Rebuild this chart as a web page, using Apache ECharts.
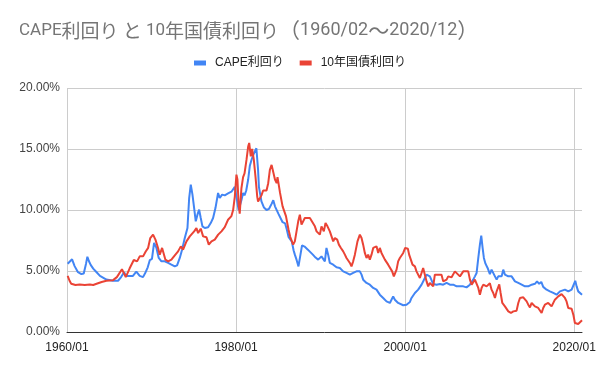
<!DOCTYPE html>
<html><head><meta charset="utf-8">
<script src="https://cdn.jsdelivr.net/npm/echarts@6/dist/echarts.min.js"></script>
<style>html,body{margin:0;padding:0;background:#fff}#c{width:600px;height:371px}</style>
</head><body><div id="c"></div>
<script>
// title split into latin / CJK runs so each can use its own size
const titleRuns = [['l','CAPE'],['j','利回り'],['l',' '],['j','と'],['l',' 10'],['j','年国債利回り'],['p','（'],['d','1960/02'],['p','〜'],['d','2020/12'],['p','）']];
const seriesNames = ['CAPE利回り', '10年国債利回り'];
const xTicks = [1960, 1980, 2000, 2020];
const yTicks = [0, 5, 10, 15, 20];

// [decimal year, yield %]
const capeYield = [
[1960.08,5.6],[1960.3,5.75],[1960.6,5.96],[1960.9,5.4],[1961.3,4.9],[1961.7,4.75],[1961.98,4.8],[1962.25,5.6],[1962.41,6.17],[1962.6,5.8],
[1962.8,5.5],[1963.1,5.2],[1963.5,4.9],[1963.9,4.6],[1964.66,4.3],[1965.44,4.2],[1966.04,4.2],[1966.4,4.5],[1966.75,4.9],[1967.0,4.6],
[1967.22,4.6],[1967.8,4.6],[1968.2,4.95],[1968.6,4.6],[1968.99,4.5],[1969.3,4.9],[1969.55,5.3],[1969.8,5.9],[1970.05,6.0],[1970.3,7.3],[1970.58,6.89],
[1970.85,6.07],[1971.17,5.79],[1971.56,5.79],[1971.96,5.66],[1972.35,5.52],[1972.75,5.38],[1973.02,5.46],[1973.34,6.07],[1973.61,6.75],[1973.93,7.7],
[1974.25,8.52],[1974.45,10.98],[1974.64,12.08],[1974.84,11.26],[1975.04,10.16],[1975.23,9.07],[1975.43,9.62],[1975.63,10.03],[1975.82,9.34],[1976.02,8.66],
[1976.3,8.52],[1976.69,8.58],[1977.0,8.93],[1977.28,9.34],[1977.56,10.16],[1977.87,11.39],[1978.07,10.98],[1978.35,11.26],[1978.66,11.2],[1979.05,11.36],
[1979.45,11.5],[1979.85,11.9],[1980.04,11.1],[1980.3,10.0],[1980.63,10.8],[1980.83,11.4],[1981.0,11.2],[1981.2,11.6],[1981.43,12.5],[1981.62,13.6],
[1981.82,14.1],[1982.02,14.5],[1982.2,14.6],[1982.4,15.06],[1982.5,14.9],[1982.6,13.3],[1982.7,11.9],[1982.9,11.1],[1983.0,10.7],[1983.3,10.2],
[1983.6,10.0],[1983.9,10.1],[1984.2,10.5],[1984.4,10.8],[1984.6,10.3],[1984.8,10.2],[1985.0,9.7],[1985.2,9.6],[1985.5,9.0],[1985.8,8.9],
[1986.0,8.4],[1986.2,7.8],[1986.6,7.4],[1986.8,6.7],[1986.95,6.34],[1987.15,5.93],[1987.38,5.38],[1987.55,5.3],[1987.8,7.1],
[1988.1,7.0],[1988.29,6.89],[1988.49,6.75],[1988.68,6.61],[1989.08,6.34],[1989.4,6.1],[1989.71,5.93],[1990.1,6.2],[1990.5,5.79],[1990.69,6.89],
[1990.89,6.34],[1991.09,5.66],[1991.49,5.52],[1991.88,5.3],[1992.27,5.25],[1992.67,4.97],[1993.06,4.84],[1993.46,4.7],[1993.85,4.84],[1994.24,4.97],
[1994.64,4.97],[1994.84,4.7],[1995.03,4.29],[1995.43,4.02],[1995.82,3.88],[1996.22,3.61],[1996.61,3.47],[1997.0,3.06],[1997.4,2.79],[1997.79,2.51],
[1998.19,2.38],[1998.58,2.92],[1998.78,2.65],[1999.17,2.38],[1999.37,2.3],[1999.77,2.19],[2000.16,2.24],[2000.56,2.46],[2000.75,2.79],[2001.15,3.2],
[2001.54,3.47],[2001.74,3.61],[2001.94,3.88],[2002.33,4.43],[2002.53,4.7],[2002.92,4.56],[2003.12,4.43],[2003.32,3.93],[2003.71,3.88],[2004.11,3.93],
[2004.5,3.88],[2004.9,4.02],[2005.29,3.88],[2005.69,3.88],[2006.08,3.74],[2006.48,3.74],[2006.87,3.74],[2007.26,3.66],[2007.66,3.88],[2007.86,3.93],
[2008.05,4.29],[2008.25,4.56],[2008.45,4.84],[2008.65,6.07],[2008.84,7.16],[2009.0,7.9],[2009.16,6.89],[2009.31,6.07],[2009.5,5.6],[2009.75,5.25],
[2009.9,4.97],[2010.02,4.75],[2010.22,5.11],[2010.42,4.97],[2010.62,4.56],[2010.82,4.29],[2011.01,4.56],[2011.41,4.56],[2011.6,5.11],[2011.8,4.7],
[2012.0,4.84],[2012.2,4.56],[2012.59,4.56],[2012.79,4.43],[2012.99,4.15],[2013.38,4.02],[2013.78,3.88],[2014.17,3.74],[2014.56,3.74],[2014.96,3.88],
[2015.35,3.95],[2015.6,4.15],[2015.85,3.95],[2016.1,4.1],[2016.33,3.7],[2016.73,3.47],[2017.12,3.33],[2017.52,3.2],[2017.91,3.06],[2018.11,3.2],
[2018.31,3.33],[2018.5,3.33],[2018.9,3.47],[2019.3,3.33],[2019.69,3.47],[2019.89,3.33],[2020.12,4.2],[2020.28,3.74],[2020.47,3.33],[2020.67,3.2],
[2020.92,3.06]
];

const bondYield = [
[1960.08,4.6],[1960.3,4.2],[1960.5,3.95],[1961.0,3.85],[1961.5,3.9],[1962.1,3.85],[1962.7,3.9],[1963.1,3.85],[1963.5,3.95],[1964.1,4.1],
[1964.66,4.2],[1965.45,4.25],[1965.9,4.5],[1966.5,5.15],[1966.95,4.5],[1967.4,5.2],[1967.9,5.9],[1968.29,5.79],
[1968.6,6.2],[1969.0,6.2],[1969.31,6.6],[1969.6,6.9],[1969.85,7.7],[1970.18,7.98],[1970.46,7.57],[1970.77,6.89],[1970.97,6.34],[1971.25,6.89],
[1971.64,5.93],[1971.96,5.79],[1972.35,5.93],[1972.75,6.28],[1973.14,6.61],[1973.46,7.02],[1973.73,6.75],[1974.13,7.43],[1974.52,7.84],[1975.04,8.25],
[1975.31,8.52],[1975.51,8.11],[1975.82,8.47],[1976.1,7.84],[1976.5,7.76],[1976.77,7.16],[1977.09,7.43],[1977.48,7.57],[1977.88,7.98],[1978.27,8.25],
[1978.66,8.6],[1979.05,9.2],[1979.45,9.5],[1979.65,10.0],[1979.85,11.1],[1980.04,12.9],[1980.16,12.5],[1980.3,10.5],[1980.43,9.7],[1980.63,11.77],
[1980.83,12.7],[1981.0,13.0],[1981.23,14.1],[1981.43,15.2],[1981.55,15.5],[1981.74,14.4],[1981.9,15.0],[1982.1,14.1],[1982.3,12.7],[1982.5,11.1],
[1982.6,10.7],[1982.8,10.8],[1983.0,11.2],[1983.2,11.6],[1983.4,11.7],[1983.6,11.6],[1983.8,12.2],[1984.0,13.3],[1984.2,13.7],[1984.4,13.6],
[1984.6,12.5],[1984.8,12.2],[1984.9,12.7],[1985.2,11.4],[1985.5,10.3],[1985.7,10.3],[1985.9,9.5],[1986.2,8.4],[1986.4,7.8],
[1986.55,7.65],[1986.75,7.16],[1986.95,7.43],[1987.15,8.25],
[1987.35,9.07],[1987.54,9.62],[1987.74,8.8],[1988.13,9.34],[1988.33,9.48],[1988.73,9.34],[1988.92,9.48],[1989.32,8.66],[1989.52,8.25],[1989.91,7.98],
[1990.1,8.66],[1990.38,8.25],[1990.58,8.93],[1990.81,8.66],[1991.09,8.25],[1991.49,7.43],[1991.69,7.7],[1991.96,7.57],[1992.16,7.16],[1992.4,6.89],
[1992.67,6.61],[1992.87,6.34],[1993.06,6.07],[1993.46,5.66],[1993.65,5.38],[1993.85,5.79],[1994.05,6.34],[1994.36,7.43],[1994.64,7.98],[1994.84,7.7],
[1995.03,7.16],[1995.23,6.48],[1995.43,6.07],[1995.62,6.34],[1995.82,5.93],[1996.02,6.34],[1996.22,6.89],[1996.61,7.02],[1996.81,6.48],[1997.0,6.89],
[1997.2,6.48],[1997.6,5.93],[1997.99,5.52],[1998.19,5.38],[1998.46,4.97],[1998.66,4.56],[1998.98,5.11],[1999.17,5.79],[1999.37,6.07],[1999.77,6.48],
[2000.0,6.89],[2000.32,6.83],[2000.47,6.34],[2000.67,5.93],[2000.87,5.52],[2001.15,5.38],[2001.34,4.97],[2001.54,5.11],[2001.74,4.43],[2002.13,5.25],
[2002.33,4.7],[2002.53,4.15],[2002.72,3.74],[2002.92,4.02],[2003.32,3.74],[2003.51,4.7],[2003.91,4.7],[2004.3,4.7],[2004.5,4.15],[2004.9,4.29],
[2005.09,4.56],[2005.49,4.48],[2005.88,4.97],[2006.08,5.11],[2006.48,4.56],[2006.87,4.97],[2007.07,5.11],[2007.46,4.97],[2007.66,4.29],[2007.86,3.88],
[2008.25,4.29],[2008.65,3.61],[2008.84,3.06],[2009.04,3.61],[2009.24,3.88],[2009.63,3.74],[2010.02,4.0],[2010.22,3.47],[2010.42,3.2],[2010.62,2.79],
[2010.82,3.33],[2011.13,3.9],[2011.29,3.2],[2011.49,2.38],[2011.8,2.1],[2012.2,1.69],[2012.51,1.56],[2012.79,1.69],[2013.18,1.75],[2013.38,2.38],
[2013.58,2.79],[2013.77,2.92],[2013.97,2.84],[2014.37,2.51],[2014.56,2.24],[2014.76,2.02],[2014.96,2.38],[2015.35,2.1],[2015.74,1.97],[2015.94,1.83],
[2016.14,1.56],[2016.33,1.97],[2016.53,2.24],[2016.92,2.38],[2017.32,2.1],[2017.71,2.65],[2018.11,2.92],[2018.5,3.11],[2018.7,3.2],[2018.9,2.79],
[2019.09,2.51],[2019.29,1.97],[2019.69,1.91],[2019.89,1.42],[2020.08,0.74],[2020.47,0.66],[2020.67,0.82],[2020.92,0.96]
];

const AXIS_FONT = '"Liberation Sans", Arial, "Noto Sans CJK JP", sans-serif';
const CJK_FONT = '"Noto Sans CJK JP", sans-serif';
const chart = echarts.init(document.getElementById('c'), null, {renderer: 'canvas'});
chart.setOption({
  animation: false,
  backgroundColor: '#fff',
  title: {
    text: titleRuns.map(r => '{' + r[0] + '|' + r[1] + '}').join(''),
    left: 14, top: 15,
    textStyle: {
      fontSize: 17, color: '#757575', fontWeight: 'normal',
      rich: {
        l: {fontFamily: 'Roboto, sans-serif', fontSize: 17, color: '#757575', verticalAlign: 'middle'},
        d: {fontFamily: 'Roboto, sans-serif', fontSize: 18, color: '#757575', verticalAlign: 'middle'},
        j: {fontFamily: CJK_FONT, fontSize: 19, color: '#757575', verticalAlign: 'middle'},
        p: {fontFamily: CJK_FONT, fontSize: 21, color: '#757575', verticalAlign: 'middle'}
      }
    }
  },
  legend: {
    data: seriesNames, top: 52, left: 'center',
    icon: 'rect', itemWidth: 12, itemHeight: 5, itemGap: 16,
    textStyle: {fontFamily: AXIS_FONT, fontSize: 12, color: '#222', padding: [0, 0, 0, 4]}
  },
  grid: {left: 67, right: 18, top: 88, bottom: 39},
  xAxis: {
    type: 'value', min: xTicks[0], max: 2020 + 11 / 12, interval: 20,
    axisLine: {show: true, onZero: true, lineStyle: {color: '#333', width: 1}},
    axisTick: {show: false},
    splitLine: {show: true, showMaxLine: false, lineStyle: {color: '#ccc'}},
    axisLabel: {
      showMaxLabel: false, margin: 10, color: '#222', fontFamily: AXIS_FONT, fontSize: 12,
      formatter: v => xTicks.indexOf(v) >= 0 ? v + '/01' : ''
    }
  },
  yAxis: {
    type: 'value', min: yTicks[0], max: yTicks[yTicks.length - 1], interval: 5,
    axisLine: {show: false}, axisTick: {show: false},
    splitLine: {show: true, showMinLine: false, lineStyle: {color: '#ccc'}},
    axisLabel: {margin: 7, color: '#444', fontFamily: AXIS_FONT, fontSize: 12, formatter: v => v.toFixed(2) + '%'}
  },
  series: [
    {name: seriesNames[0], type: 'line', data: capeYield, showSymbol: false, color: '#4285F4', lineStyle: {width: 2}},
    {name: seriesNames[1], type: 'line', data: bondYield, showSymbol: false, color: '#EA4335', lineStyle: {width: 2}}
  ]
});
</script>
</body></html>
